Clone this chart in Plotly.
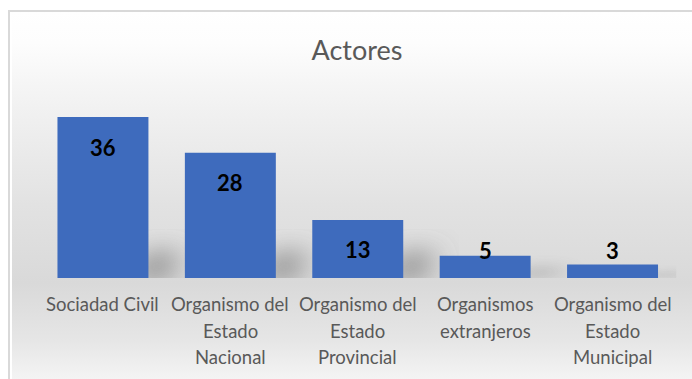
import base64
import textwrap

import plotly.graph_objects as go

# Chart data
categories = [
    "Sociadad Civil",
    "Organismo del Estado Nacional",
    "Organismo del Estado Provincial",
    "Organismos extranjeros",
    "Organismo del Estado Municipal",
]
values = [36, 28, 13, 5, 3]
title_text = "Actores"

W, H = 692, 379
FONT = "Lato, 'Open Sans', sans-serif"
TEXT_GREY = "#595959"
BAR_COLOR = "#3E6BBD"

Y_MAX = 40
BASE_PX = 278          # pixel row of the category axis
PX_PER_UNIT = 4.47     # vertical scale
X_LEFT_PX, X_RIGHT_PX = 39.25, 676.25

y_dom0 = 1 - BASE_PX / H
y_dom1 = 1 - (BASE_PX - Y_MAX * PX_PER_UNIT) / H


def svg_uri(svg):
    return "data:image/svg+xml;base64," + base64.b64encode(svg.encode()).decode()


# soft vertical gradient of the chart area
bg_svg = (
    "<svg xmlns='http://www.w3.org/2000/svg' width='100' height='100' viewBox='0 0 100 100' "
    "preserveAspectRatio='none'><defs><linearGradient id='g' x1='0' y1='0' x2='0' y2='1'>"
    "<stop offset='0' stop-color='#ffffff'/>"
    "<stop offset='0.08' stop-color='#fdfdfd'/>"
    "<stop offset='0.25' stop-color='#f1f1f1'/>"
    "<stop offset='0.50' stop-color='#e2e2e2'/>"
    "<stop offset='0.70' stop-color='#d9d9d9'/>"
    "<stop offset='0.85' stop-color='#e6e6e6'/>"
    "<stop offset='1' stop-color='#fbfbfb'/>"
    "</linearGradient></defs><rect width='100' height='100' fill='url(#g)'/></svg>"
)

# blurred cast shadow drawn beside each bar (kept inside the viewBox so the blur fades out)
shadow_svg = (
    "<svg xmlns='http://www.w3.org/2000/svg' width='200' height='200' viewBox='0 0 200 200' "
    "preserveAspectRatio='none'><defs><filter id='b' x='-60%' y='-60%' width='220%' height='220%'>"
    "<feGaussianBlur stdDeviation='24'/></filter></defs>"
    "<polygon points='65,160 90,105 135,95 120,160' fill='#6e6e6e' fill-opacity='0.75' filter='url(#b)'/>"
    "</svg>"
)

bar_width = 0.714

fig = go.Figure()
fig.add_trace(
    go.Bar(
        x=list(range(len(categories))),
        y=values,
        width=bar_width,
        marker=dict(color=BAR_COLOR, line=dict(width=0)),
        hoverinfo="skip",
    )
)

images = [
    dict(
        source=svg_uri(bg_svg),
        xref="paper", yref="paper",
        x=12 / W, y=1 - 12 / H,
        sizex=1.0, sizey=(H + 8) / H,
        xanchor="left", yanchor="top",
        sizing="stretch", layer="below",
    )
]
for i, v in enumerate(values):
    h = min(v, 11)
    images.append(
        dict(
            source=svg_uri(shadow_svg),
            xref="x", yref="y",
            x=i + bar_width / 2 - 0.45, y=h * 1.55,
            sizex=1.0, sizey=h * 2.0,
            xanchor="left", yanchor="top",
            sizing="stretch", layer="below", opacity=min(1.0, v / 12),
        )
    )

annotations = []
# value labels, inside the top of each bar
label_floor = 6.1
label_drop = 6.72
for i, v in enumerate(values):
    annotations.append(
        dict(
            x=i, y=max(v - label_drop, label_floor), xref="x", yref="y",
            text=f"<b>{v}</b>", showarrow=False,
            font=dict(family=FONT, size=22, color="#000000"),
            xanchor="center", yanchor="middle",
        )
    )

# wrapped category labels below the axis
for i, cat in enumerate(categories):
    for k, line in enumerate(textwrap.wrap(cat, width=14)):
        annotations.append(
            dict(
                x=i, y=0, xref="x", yref="y",
                text=line, showarrow=False,
                font=dict(family=FONT, size=18.5, color=TEXT_GREY),
                xanchor="center", yanchor="middle",
                yshift=-(26 + 26.5 * k),
            )
        )

shapes = [
    dict(
        type="rect", xref="paper", yref="paper",
        x0=9 / W, x1=1.2, y0=-0.2, y1=1 - 11 / H,
        line=dict(color="#d9d9d9", width=2), fillcolor="rgba(0,0,0,0)",
        layer="above",
    )
]

fig.update_layout(
    width=W, height=H,
    margin=dict(l=0, r=0, t=0, b=0),
    paper_bgcolor="#ffffff",
    plot_bgcolor="rgba(0,0,0,0)",
    showlegend=False,
    title=dict(
        text=title_text, x=357 / W, y=1 - 51 / H,
        xref="paper", yref="paper",
        xanchor="center", yanchor="middle",
        font=dict(family=FONT, size=27, color=TEXT_GREY),
    ),
    xaxis=dict(
        domain=[X_LEFT_PX / W, X_RIGHT_PX / W],
        range=[-0.5, len(categories) - 0.5],
        showticklabels=False, showgrid=False, zeroline=False,
        showline=False, ticks="", fixedrange=True,
    ),
    yaxis=dict(
        domain=[y_dom0, y_dom1],
        range=[0, Y_MAX],
        visible=False, showgrid=False, zeroline=False, fixedrange=True,
    ),
    images=images,
    annotations=annotations,
    shapes=shapes,
)

fig.write_html("out.html", config={"displayModeBar": False})
